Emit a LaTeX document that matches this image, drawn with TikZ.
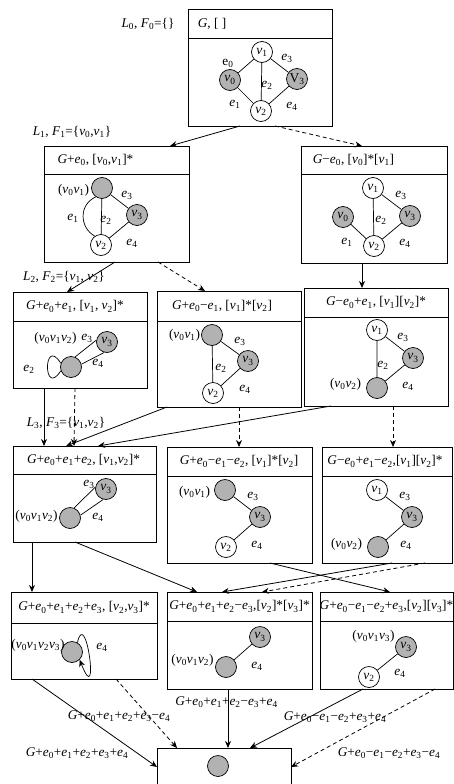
\documentclass[tikz,border=0pt]{standalone}
\usepackage{fontspec}
\setmainfont{Liberation Serif}
\usetikzlibrary{arrows.meta}
\newcommand\iG{\textit{G}}
\newcommand\ie[1]{\textit{e}\textsubscript{#1}}
\newcommand\iv[1]{\textit{v}\textsubscript{#1}}
\newcommand\iL[1]{\textit{L}\textsubscript{#1}}
\newcommand\iF[1]{\textit{F}\textsubscript{#1}}
\tikzset{
 bx/.style={draw, line width=0.8pt, inner sep=0, outer sep=0},
 bxline/.style={line width=0.8pt},
 hdr/.style={font=\fontsize{13.3}{15}\selectfont, inner sep=0},
 lbl/.style={font=\fontsize{13.3}{15}\selectfont, inner sep=0},
 gn/.style={circle, draw, fill=gray!60, minimum size=21pt, inner sep=0, line width=0.7pt, font=\fontsize{13.5}{15}\selectfont},
 wn/.style={gn, fill=white},
 ed/.style={line width=0.7pt},
 arr/.style={line width=0.8pt, -{Stealth[length=7pt,width=6pt]}},
 darr/.style={arr, dash pattern=on 4pt off 3pt},
}
\newcommand\mybox[8]{%
 \pgfmathsetmacro\bxcx{(#2+#4)/2}%
 \pgfmathsetmacro\bxcy{(#3+#5)/2}%
 \pgfmathsetmacro\bxw{#4-#2}%
 \pgfmathsetmacro\bxh{#5-#3}%
 \pgfmathsetmacro\bxhy{(#3+#6)/2}%
 \node[bx, minimum width=\bxw pt, minimum height=\bxh pt] (#1) at (\bxcx,\bxcy) {};
 \coordinate (#1s) at (#2,#6);
 \draw[bxline] (#1s) -- (#1.east |- #1s);
 \node[hdr] (#1h) at (#7,\bxhy) {#8};
}
\begin{document}
\begin{tikzpicture}[x=1pt,y=-1pt]
\clip (0,0) rectangle (454,784);
\fill[white] (0,0) rectangle (454,784);
% boxes
\mybox{b0}{188}{9}{332}{126}{38}{212}{\iG, [ ]}
\mybox{b1}{44}{146}{189}{262}{174}{95.5}{\iG+\ie0, [\iv0,\iv1]*}
\mybox{b2}{301}{146}{447}{263}{174}{353.5}{\iG−\ie0, [\iv0]*[\iv1]}
\mybox{b3}{13}{292}{147}{388}{321}{75}{\iG+\ie0+\ie1, [\iv1, \iv2]*}
\mybox{b4}{157}{291}{301}{407}{321}{222}{\iG+\ie0−\ie1, [\iv1]*[\iv2]}
\mybox{b5}{304}{288}{448}{406}{317}{376}{\iG−\ie0+\ie1, [\iv1][\iv2]*}
\mybox{b6}{13}{446}{156}{542}{474}{83.5}{\iG+\ie0+\ie1+\ie2, [\iv1,\iv2]*}
\mybox{b7}{167}{447}{312}{563}{476}{239}{\iG+\ie0−\ie1−\ie2, [\iv1]*[\iv2]}
\mybox{b8}{322}{447}{452}{563}{476}{385}{\iG−\ie0+\ie1−\ie2,[\iv1][\iv2]*}
\mybox{b9}{11}{592}{157}{679}{623}{84}{\iG+\ie0+\ie1+\ie2+\ie3, [\iv2,\iv3]*}
\mybox{b10}{167}{592}{312}{689}{621}{239.5}{\iG+\ie0+\ie1+\ie2−\ie3,[\iv2]*[\iv3]*}
\mybox{b11}{320}{592}{453}{689}{621}{386.5}{\iG+\ie0−\ie1−\ie2+\ie3,[\iv2][\iv3]*}
\node[bx, minimum width=134pt, minimum height=38pt] (fin) at (224,767) {};
% level labels
\node[hdr] (L0) at (148,24) {\iL0, \iF0=\{\}};
\node[hdr] (L1) at (72,132) {\iL1, \iF1=\{\iv0,\iv1\}};
\node[hdr] (L2) at (64,277) {\iL2, \iF2=\{\iv1, \iv2\}};
\node[hdr] (L3) at (66,423) {\iL3, \iF3=\{\iv1,\iv2\}};
% box 0 graph
\node[wn] (a1) at (262,52) {\iv1};
\node[gn] (a0) at (230,80) {\iv0};
\node[gn] (a3) at (297,79) {V\textsubscript{3}};
\node[wn] (a2) at (261,111) {\iv2};
\draw[ed] (a0)--(a1) (a1)--(a2) (a1)--(a3) (a0)--(a2) (a2)--(a3);
\node[lbl] (a0l0) at (228,63) {e\textsubscript{0}};
\node[lbl] (a0l3) at (287,58) {\ie3};
\node[lbl] (a0l2) at (267,85) {\ie2};
\node[lbl] (a0l1) at (235,104) {\ie1};
\node[lbl] (a0l4) at (292,106) {\ie4};
% box 1 graph
\node[gn] (c01) at (102,188) {};
\node[gn] (c3) at (137,215) {\iv3};
\node[wn] (c2) at (101,245) {\iv2};
\draw[ed] (c01)--(c2) (c01)--(c3) (c3)--(c2);
\draw[ed] (c01.235) .. controls (78,205) and (80,228) .. (c2.125);
\node[lbl] (c1l0) at (73.5,190) {(\iv0\iv1)};
\node[lbl] (c1l3) at (127,195) {\ie3};
\node[lbl] (c1l1) at (73,218) {\ie1};
\node[lbl] (c1l2) at (106,220) {\ie2};
\node[lbl] (c1l4) at (132,243) {\ie4};
% box 2 graph
\node[wn] (d1) at (373,188) {\iv1};
\node[gn] (d0) at (343,217) {\iv0};
\node[gn] (d3) at (410,216) {\iv3};
\node[wn] (d2) at (374,246) {\iv2};
\draw[ed] (d1)--(d2) (d1)--(d3) (d0)--(d2) (d3)--(d2);
\node[lbl] (d2l3) at (401,195) {\ie3};
\node[lbl] (d2l2) at (381,220) {\ie2};
\node[lbl] (d2l1) at (347,242) {\ie1};
\node[lbl] (d2l4) at (405,243) {\ie4};
% box 3 graph
\node[gn] (f012) at (71,367) {};
\node[gn] (f3) at (107,342) {\iv3};
\draw[ed] (f012.68)--(f3.170) (f012.15)--(f3.255);
\draw[ed] (f012.160) .. controls (43,335) and (43,399) .. (f012.200);
\node[lbl] (f3l0) at (55.5,338) {(\iv0\iv1\iv2)};
\node[lbl] (f3l3) at (87,338) {\ie3};
\node[lbl] (f3l4) at (98,363) {\ie4};
\node[lbl] (f3l2) at (29,369) {\ie2};
% box 4 graph
\node[gn] (g01) at (212,335) {};
\node[gn] (g3) at (248,361) {\iv3};
\node[wn] (g2) at (213,393) {\iv2};
\draw[ed] (g01)--(g3) (g01)--(g2) (g3)--(g2);
\node[lbl] (g4l0) at (184.5,335) {(\iv0\iv1)};
\node[lbl] (g4l3) at (240,341) {\ie3};
\node[lbl] (g4l2) at (221,368) {\ie2};
\node[lbl] (g4l4) at (245,389) {\ie4};
% box 5 graph
\node[wn] (h1) at (377,330) {\iv1};
\node[gn] (h3) at (413,358) {\iv3};
\node[gn] (h02) at (377,388) {};
\draw[ed] (h1)--(h3) (h1)--(h02) (h3)--(h02);
\node[lbl] (h5l3) at (403,337) {\ie3};
\node[lbl] (h5l2) at (383,365) {\ie2};
\node[lbl] (h5l0) at (345.5,384) {(\iv0\iv2)};
\node[lbl] (h5l4) at (408,386) {\ie4};
% box 6 graph
\node[gn] (k012) at (70,518) {};
\node[gn] (k3) at (106,489) {\iv3};
\draw[ed] (k012.68)--(k3.170) (k012.15)--(k3.255);
\node[lbl] (k6l3) at (89,484) {\ie3};
\node[lbl] (k6l0) at (36.5,516) {(\iv0\iv1\iv2)};
\node[lbl] (k6l4) at (98,517) {\ie4};
% box 7 graph
\node[gn] (m01) at (225,490) {};
\node[gn] (m3) at (260,517) {\iv3};
\node[wn] (m2) at (226,547) {\iv2};
\draw[ed] (m01)--(m3) (m3)--(m2);
\node[lbl] (m7l0) at (194.5,492) {(\iv0\iv1)};
\node[lbl] (m7l3) at (253,496) {\ie3};
\node[lbl] (m7l4) at (257,545) {\ie4};
% box 8 graph
\node[wn] (n1) at (377,490) {\iv1};
\node[gn] (n3) at (412,517) {\iv3};
\node[gn] (n02) at (378,547) {};
\draw[ed] (n1)--(n3) (n3)--(n02);
\node[lbl] (n8l3) at (405,496) {\ie3};
\node[lbl] (n8l0) at (346.5,544) {(\iv0\iv2)};
\node[lbl] (n8l4) at (406,545) {\ie4};
% box 9 graph
\node[gn] (p0123) at (72,652) {};
\draw[ed, -{Stealth[length=7pt,width=6pt]}] (p0123.60) .. controls (86,605) and (100,712) .. (p0123.-45);
\node[lbl] (p9l0) at (38,645) {(\iv0\iv1\iv2\iv3)};
\node[lbl] (p9l4) at (102,647) {\ie4};
% box 10 graph
\node[gn] (q3) at (260,637) {\iv3};
\node[gn] (q012) at (226,667) {};
\draw[ed] (q012)--(q3);
\node[lbl] (q10l0) at (192.5,660) {(\iv0\iv1\iv2)};
\node[lbl] (q10l4) at (257,666) {\ie4};
% box 11 graph
\node[gn] (r3) at (406,647) {\iv3};
\node[wn] (r2) at (369,677) {\iv2};
\draw[ed] (r2)--(r3);
\node[lbl] (r11l0) at (373.5,636) {(\iv0\iv1\iv3)};
\node[lbl] (r11l4) at (400,673) {\ie4};
% final
\node[gn] (z) at (218,766) {};
% connectors
\draw[arr] (b0.south -| 240,0) -- (b1.north -| 170,0);
\draw[darr] (b0.south -| 275,0) -- (b2.north -| 362,0);
\draw[arr] (b1.south -| 115,0) -- (b3.north -| 67,0);
\draw[darr] (b1.south -| 158,0) -- (b4.north -| 205,0);
\draw[arr] (b2.south -| 362,0) -- (b5.north -| 362,0);
\draw[arr] (b3.south -| 44,0) -- (b6.north -| 44,0);
\draw[darr] (b3.south -| 75,0) -- (b6.north -| 74,0);
\draw[arr] (b4.south -| 167,0) -- (b6.north -| 66,0);
\draw[arr] (b5.south -| 331,0) -- (b6.north -| 98,0);
\draw[darr] (b4.south -| 239,0) -- (b7.north -| 239,0);
\draw[darr] (b5.south -| 393,0) -- (b8.north -| 393,0);
\draw[arr] (b6.south -| 32,0) -- (b9.north -| 32,0);
\draw[arr] (b6.south -| 75,0) -- (b10.north -| 197,0);
\draw[arr] (b7.south -| 270,0) -- (b11.north -| 390,0);
\draw[arr] (b8.south -| 392,0) -- (b10.north -| 222,0);
\draw[darr] (b8.south -| 425,0) -- (b10.north -| 262,0);
\draw[arr] (b9.south -| 32,0) -- (fin.west);
\draw[darr] (b9.south -| 116,0) -- (fin.north -| 177,0);
\draw[arr] (b10.south -| 228,0) -- (fin.north -| 228,0);
\draw[arr] (b11.south -| 363,0) -- (fin.north -| 250,0);
\draw[darr] (b11.south -| 435,0) -- (fin.east);
% bottom labels
\node[hdr] (t1) at (77,753) {\iG+\ie0+\ie1+\ie2+\ie3+\ie4};
\node[hdr] (t2) at (119,716) {\iG+\ie0+\ie1+\ie2+\ie3−\ie4};
\node[hdr] (t3) at (226.5,702) {\iG+\ie0+\ie1+\ie2−\ie3+\ie4};
\node[hdr] (t4) at (335,717) {\iG+\ie0−\ie1−\ie2+\ie3+\ie4};
\node[hdr] (t5) at (389,753) {\iG+\ie0−\ie1−\ie2+\ie3−\ie4};
\end{tikzpicture}
\end{document}
